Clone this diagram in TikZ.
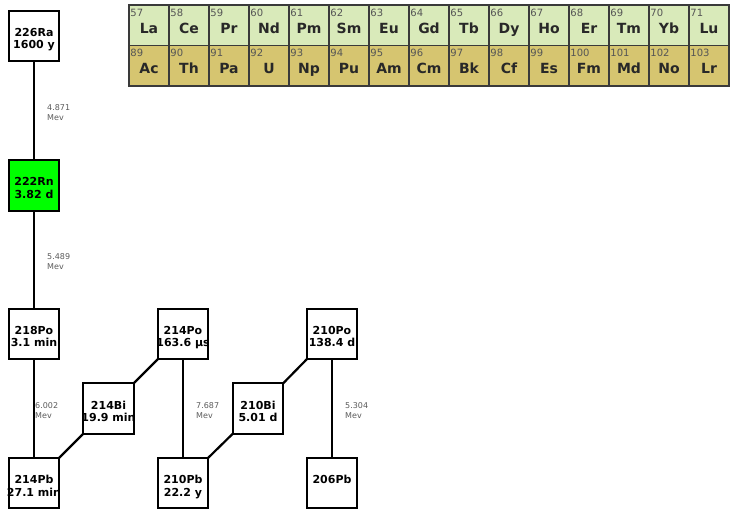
\documentclass[tikz,border=0pt]{standalone}
\usepackage{fontspec}
\setmainfont{DejaVu Sans}
\definecolor{lanthfill}{RGB}{217,234,186}
\definecolor{actinfill}{RGB}{214,197,112}
\definecolor{cellline}{RGB}{58,58,58}
\definecolor{znumcol}{RGB}{85,85,85}
\definecolor{symcol}{RGB}{40,40,40}
\definecolor{mevcol}{RGB}{90,90,90}
\definecolor{rngreen}{RGB}{0,255,0}
\begin{document}
\begin{tikzpicture}[x=1pt,y=-1pt,
  decay/.style={minimum width=50pt,minimum height=50pt,inner sep=0pt,fill=white},
  nuc/.style={inner sep=0pt,align=center,anchor=north,
    font=\fontsize{11}{12.5}\selectfont\bfseries,text=black},
  frame/.style={draw=black,line width=2.2pt},
  link/.style={line width=2.2pt,line cap=butt},
  mev/.style={inner sep=0pt,anchor=west,align=left,
    font=\fontsize{8}{10}\selectfont,text=mevcol},
  cell/.style={draw=cellline,line width=1.5pt,minimum width=40pt,
    minimum height=40.5pt,inner sep=0pt},
  znum/.style={inner sep=0pt,anchor=north west,
    font=\fontsize{10}{11}\selectfont,text=znumcol},
  sym/.style={inner sep=0pt,anchor=base,
    font=\fontsize{14}{15}\selectfont\bfseries,text=symcol}]
\useasboundingbox (0,0) rectangle (730,509);

% ---- lanthanide / actinide strip ----
\foreach \s [count=\i from 0] in {La,Ce,Pr,Nd,Pm,Sm,Eu,Gd,Tb,Dy,Ho,Er,Tm,Yb,Lu}{
  \pgfmathtruncatemacro\z{57+\i}
  \node[cell,fill=lanthfill] (el\z) at (149+40*\i,25.25) {};
  \node[znum] (zn\z) at ([xshift=2pt,yshift=-4.5pt]el\z.north west) {\z};
  \node[sym] (sy\z) at ([yshift=-29pt]el\z.north) {\s};
}
\foreach \s [count=\i from 0] in {Ac,Th,Pa,U,Np,Pu,Am,Cm,Bk,Cf,Es,Fm,Md,No,Lr}{
  \pgfmathtruncatemacro\z{89+\i}
  \node[cell,fill=actinfill] (el\z) at (149+40*\i,65.75) {};
  \node[znum] (zn\z) at ([xshift=2pt,yshift=-4.5pt]el\z.north west) {\z};
  \node[sym] (sy\z) at ([yshift=-28.5pt]el\z.north) {\s};
}

% ---- decay chain boxes ----
\node[decay] (ra226) at (34,36) {};
\node[decay,fill=rngreen] (rn222) at (34,185.5) {};
\node[decay] (po218) at (34,334) {};
\node[decay] (pb214) at (34,483) {};
\node[decay] (bi214) at (108.5,408.5) {};
\node[decay] (po214) at (183,334) {};
\node[decay] (pb210) at (183,483) {};
\node[decay] (bi210) at (258,408.5) {};
\node[decay] (po210) at (332,334) {};
\node[decay] (pb206) at (332,483) {};

\node[nuc] (ra226t) at ([yshift=8pt]ra226.center) {226Ra\\1600 y};
\node[nuc] (rn222t) at ([yshift=8pt]rn222.center) {222Rn\\3.82 d};
\node[nuc] (po218t) at ([yshift=8pt]po218.center) {218Po\\3.1 min};
\node[nuc] (pb214t) at ([yshift=8pt]pb214.center) {214Pb\\27.1 min};
\node[nuc] (bi214t) at ([yshift=8pt]bi214.center) {214Bi\\19.9 min};
\node[nuc] (po214t) at ([yshift=8pt]po214.center) {214Po\\163.6 µs};
\node[nuc] (pb210t) at ([yshift=8pt]pb210.center) {210Pb\\22.2 y};
\node[nuc] (bi210t) at ([yshift=8pt]bi210.center) {210Bi\\5.01 d};
\node[nuc] (po210t) at ([yshift=8pt]po210.center) {210Po\\138.4 d};
\node[nuc] (pb206t) at ([yshift=8pt]pb206.center) {206Pb};

% ---- decay energies ----
\node[mev] (e1) at (47,112.5) {4.871\\Mev};
\node[mev] (e2) at (47,262) {5.489\\Mev};
\node[mev] (e3) at (35,411) {6.002\\Mev};
\node[mev] (e4) at (196,411) {7.687\\Mev};
\node[mev] (e5) at (345,411) {5.304\\Mev};

% ---- connectors ----
\draw[link] (ra226.south) -- (rn222.north);
\draw[link] (rn222.south) -- (po218.north);
\draw[link] (po218.south) -- (pb214.north);
\draw[link] (pb214.north east) -- (bi214.south west);
\draw[link] (bi214.north east) -- (po214.south west);
\draw[link] (po214.south) -- (pb210.north);
\draw[link] (pb210.north east) -- (bi210.south west);
\draw[link] (bi210.north east) -- (po210.south west);
\draw[link] (po210.south) -- (pb206.north);

% ---- box outlines over the text ----
\foreach \n in {ra226,rn222,po218,pb214,bi214,po214,pb210,bi210,po210,pb206}{
  \draw[frame] (\n.south west) rectangle (\n.north east);
}
\end{tikzpicture}
\end{document}
